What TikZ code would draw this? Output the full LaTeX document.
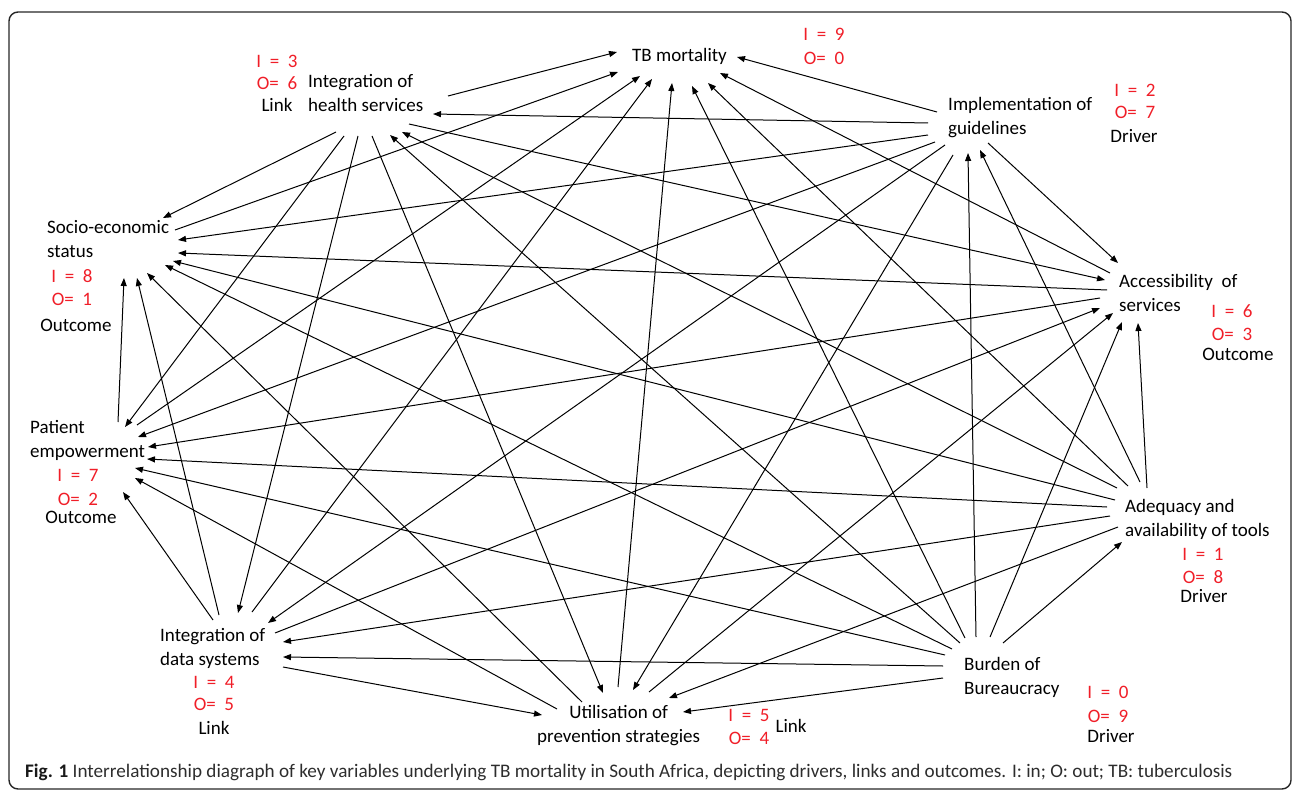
\documentclass[tikz,border=0pt]{standalone}
\usepackage{fontspec}
\setmainfont{Carlito}
\usepackage{graphicx}
\usetikzlibrary{arrows.meta,calc}
\definecolor{cntred}{RGB}{240,30,40}
\definecolor{captxt}{RGB}{45,45,45}
\tikzset{
  var/.style={anchor=west, inner sep=0pt, align=left, font=\fontsize{19}{23.5}\selectfont},
  count/.style={inner sep=0pt, text height=12pt, text depth=0pt, text=cntred, font=\fontsize{19}{22}\selectfont},
  role/.style={inner sep=0pt, text height=12pt, text depth=0pt, text=black, font=\fontsize{19}{22}\selectfont},
  arr/.style={-{Triangle[length=8pt,width=6pt]}, line width=1pt, black}
}
\newcommand\conn[4]{\draw[arr] ($(#1.west)+(#2)$) -- ($(#3.west)+(#4)$);}
\begin{document}
\begin{tikzpicture}[x=1pt,y=-1pt]
\useasboundingbox (0,0) rectangle (1295,791);
\draw[line width=1.4pt, rounded corners=9pt, black!85] (9,12) rectangle (1291,789);

% variables
\node[var] (TB) at (632,57) {\strut TB mortality};
\node[var] (IH) at (308,95) {\strut Integration of\\\strut health services};
\node[var] (IG) at (948,118) {\strut Implementation of\\\strut guidelines};
\node[var] (AS) at (1119,295) {\strut Accessibility\ \ of\\\strut services};
\node[var] (AT) at (1125,520) {\strut Adequacy and\\\strut availability of tools};
\node[var] (BB) at (964,678) {\strut Burden of\\\strut Bureaucracy};
\node[var, align=center] (UP) at (537,726) {\strut Utilisation of\\\strut prevention strategies};
\node[var] (ID) at (160,649) {\strut Integration of\\\strut data systems};
\node[var] (PE) at (30,441) {\strut Patient\\\strut empowerment};
\node[var] (SE) at (47,241) {\strut Socio-economic\\\strut status};

% counts and roles
\node[count] (TBi) at (824,35) {I~~=~~9};
\node[count] (TBo) at (824,59) {O=~~0};
\node[count] (IHi) at (277,62) {I~~=~~3};
\node[count] (IHo) at (277,84) {O=~~6};
\node[role] (IHr) at (277,106) {Link};
\node[count] (IGi) at (1135,91) {I~~=~~2};
\node[count] (IGo) at (1135,113) {O=~~7};
\node[role] (IGr) at (1134,137) {Driver};
\node[count] (ASi) at (1232,312) {I~~=~~6};
\node[count] (ASo) at (1232,335) {O=~~3};
\node[role] (ASr) at (1238,354) {Outcome};
\node[count] (ATi) at (1203,554) {I~~=~~1};
\node[count] (ATo) at (1203,577) {O=~~8};
\node[role] (ATr) at (1204,596) {Driver};
\node[count] (BBi) at (1108,692) {I~~=~~0};
\node[count] (BBo) at (1108,716) {O=~~9};
\node[role] (BBr) at (1111,736) {Driver};
\node[count] (UPi) at (749,715) {I~~=~~5};
\node[count] (UPo) at (749,738) {O=~~4};
\node[role] (UPr) at (791,726) {Link};
\node[count] (IDi) at (214,682) {I~~=~~4};
\node[count] (IDo) at (214,704) {O=~~5};
\node[role] (IDr) at (214,728) {Link};
\node[count] (PEi) at (78,475) {I~~=~~7};
\node[count] (PEo) at (78,499) {O=~~2};
\node[role] (PEr) at (81,517) {Outcome};
\node[count] (SEi) at (72,277) {I~~=~~8};
\node[count] (SEo) at (72,300) {O=~~1};
\node[role] (SEr) at (76,325) {Outcome};

% connectors
\conn{IH}{140,1}{TB}{-15,-5}
\conn{SE}{128,-11}{TB}{-14,15}
\conn{PE}{107,-16}{TB}{8,19}
\conn{ID}{92,-37}{TB}{20,22}
\conn{UP}{81,-39}{TB}{40,26}
\conn{BB}{1,-40}{TB}{60,29}
\conn{AT}{3,-34}{TB}{76,26}
\conn{AS}{-9,-22}{TB}{88,16}
\conn{IG}{-11,-6}{TB}{105,0}
\conn{IG}{-20,5}{IH}{125,19}
\conn{AT}{-8,-32}{IH}{94,37}
\conn{BB}{-4,-35}{IH}{82,40}
\conn{IH}{28,37}{SE}{116,-23}
\conn{IH}{36,41}{PE}{95,-14}
\conn{IH}{50,41}{ID}{78,-36}
\conn{IH}{64,41}{UP}{66,-33}
\conn{IH}{101,29}{AS}{-14,-15}
\conn{IG}{-20,17}{SE}{131,-1}
\conn{IG}{-13,24}{PE}{108,-4}
\conn{IG}{-3,27}{ID}{108,-26}
\conn{IG}{5,37}{UP}{96,-36}
\conn{IG}{40,25}{AS}{-1,-32}
\conn{BB}{12,-41}{IG}{20,35}
\conn{AT}{15,-38}{IG}{32,32}
\conn{AS}{-12,-5}{SE}{131,12}
\conn{AS}{-19,3}{PE}{118,6}
\conn{ID}{115,-16}{AS}{-19,13}
\conn{UP}{112,-34}{AS}{-6,18}
\conn{BB}{26,-41}{AS}{3,27}
\conn{AT}{22,-32}{AS}{19,28}
\conn{AT}{-10,-20}{SE}{126,20}
\conn{AT}{-18,-13}{PE}{117,18}
\conn{AT}{-15,-4}{ID}{123,-7}
\conn{AT}{-7,7}{UP}{132,-28}
\conn{BB}{39,-35}{AT}{-3,22}
\conn{BB}{-12,-29}{SE}{118,24}
\conn{BB}{-19,-23}{PE}{105,27}
\conn{BB}{-21,-12}{ID}{123,8}
\conn{BB}{-21,0}{UP}{146,-14}
\conn{UP}{45,-24}{SE}{100,32}
\conn{ID}{59,-34}{SE}{90,37}
\conn{PE}{88,-19}{SE}{77,37}
\conn{UP}{20,-17}{PE}{105,37}
\conn{ID}{53,-29}{PE}{93,51}
\conn{ID}{123,18}{UP}{5,-11}

% caption
\node[anchor=west, inner sep=0pt, text=captxt] (cap) at (25,772) {\resizebox{1207pt}{!}{\textbf{\color{black!90}Fig. 1} Interrelationship diagraph of key variables underlying TB mortality in South Africa, depicting drivers, links and outcomes. I: in; O: out; TB: tuberculosis}};
\end{tikzpicture}
\end{document}
